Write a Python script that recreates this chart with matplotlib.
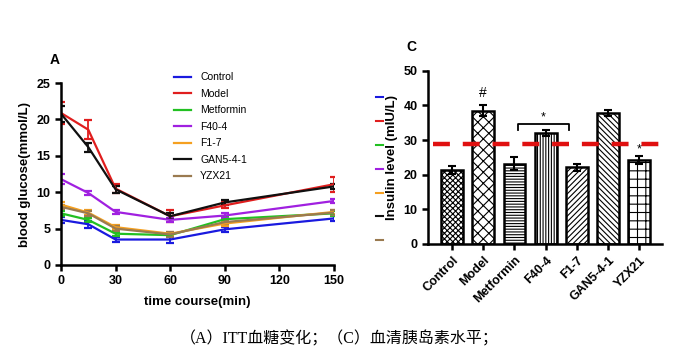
import matplotlib
matplotlib.use("Agg")
import matplotlib.pyplot as plt
from matplotlib.lines import Line2D

plt.rcParams["font.family"] = ["Liberation Sans", "DejaVu Sans"]
plt.rcParams["hatch.linewidth"] = 0.8

# ITT data
times = [0, 15, 30, 60, 90, 150]
groups = ["Control", "Model", "Metformin", "F40-4", "F1-7", "GAN5-4-1", "YZX21"]
colors = ["#1a1adf", "#e01e1e", "#22c022", "#a020e0", "#f5a020", "#101010", "#9a7a50"]
glucose = {
    "Control":   [6.2, 5.6, 3.5, 3.5, 4.9, 6.4],
    "Model":     [20.9, 18.6, 10.5, 6.7, 8.2, 11.1],
    "Metformin": [7.1, 6.2, 4.3, 4.1, 6.3, 7.1],
    "F40-4":     [11.8, 9.9, 7.3, 6.2, 6.8, 8.8],
    "F1-7":      [8.3, 7.2, 5.2, 4.3, 5.7, 7.3],
    "GAN5-4-1":  [20.8, 16.2, 10.4, 6.7, 8.6, 10.8],
    "YZX21":     [8.0, 7.1, 5.0, 4.2, 5.9, 7.2],
}
glucose_err = {
    "Control":   [0.4, 0.5, 0.4, 0.5, 0.3, 0.3],
    "Model":     [1.5, 1.3, 0.6, 0.8, 0.4, 1.0],
    "Metformin": [0.3, 0.3, 0.3, 0.3, 0.3, 0.3],
    "F40-4":     [0.7, 0.3, 0.3, 0.3, 0.3, 0.3],
    "F1-7":      [0.4, 0.3, 0.3, 0.3, 0.3, 0.3],
    "GAN5-4-1":  [1.1, 0.6, 0.5, 0.4, 0.4, 0.3],
    "YZX21":     [0.3, 0.3, 0.3, 0.3, 0.3, 0.3],
}

# insulin data
insulin = [21.3, 38.5, 23.2, 32.0, 22.2, 37.8, 24.3]
insulin_err = [1.2, 1.5, 1.9, 0.8, 1.0, 0.8, 1.2]
hatches = ["xxxxxx", "XXX", "------", "||||||", "//////", "\\\\\\\\\\\\", "++"]
ref_level = 29

fig = plt.figure(figsize=(6.86, 3.63), dpi=100)

# ---- panel A ----
ax1 = fig.add_axes([0.0889, 0.270, 0.398, 0.501])
for g, c in zip(groups, colors):
    ax1.errorbar(times, glucose[g], yerr=glucose_err[g], color=c, lw=1.6,
                 capsize=3, capthick=1.6, elinewidth=1.3, label=g)
ax1.set_xlim(0, 150)
ax1.set_ylim(0, 25)
ax1.set_xticks([0, 30, 60, 90, 120, 150])
ax1.set_yticks([0, 5, 10, 15, 20, 25])
ax1.spines["top"].set_visible(False)
ax1.spines["right"].set_visible(False)
for s in ["left", "bottom"]:
    ax1.spines[s].set_linewidth(1.8)
ax1.tick_params(width=1.8, length=4, labelsize=9)
for lab in ax1.get_xticklabels() + ax1.get_yticklabels():
    lab.set_fontweight("bold")
ax1.set_xlabel("time course(min)", fontsize=9.5, fontweight="bold", labelpad=6)
ax1.set_ylabel("blood glucose(mmol/L)", fontsize=9.5, fontweight="bold")
handles = [Line2D([0], [0], color=c, lw=1.6) for c in colors]
ax1.legend(handles, groups, loc="upper left", bbox_to_anchor=(0.38, 1.11),
           frameon=False, fontsize=7.5, handlelength=1.6, handletextpad=0.9,
           labelspacing=0.62)
fig.text(0.073, 0.823, "A", fontsize=10, fontweight="bold")

# ---- panel C ----
ax2 = fig.add_axes([0.624, 0.328, 0.341, 0.477])
x = list(range(len(groups)))
bars = ax2.bar(x, insulin, width=0.7, color="white", edgecolor="black",
               linewidth=1.8, yerr=insulin_err, capsize=3,
               error_kw=dict(elinewidth=1.5, capthick=1.5))
for b, h in zip(bars, hatches):
    b.set_hatch(h)
ax2.set_xlim(-0.77, 6.73)
ax2.set_ylim(0, 50)
ax2.plot([-0.6, 6.73], [ref_level, ref_level], color="#e01010", lw=3.2,
         ls=(0, (3.8, 2.9)))
ax2.set_xticks(x)
ax2.set_xticklabels(groups, rotation=45, ha="right", rotation_mode="anchor")
ax2.set_yticks([0, 10, 20, 30, 40, 50])
ax2.spines["top"].set_visible(False)
ax2.spines["right"].set_visible(False)
for s in ["left", "bottom"]:
    ax2.spines[s].set_linewidth(1.8)
ax2.tick_params(width=1.8, length=4, labelsize=9)
for lab in ax2.get_xticklabels() + ax2.get_yticklabels():
    lab.set_fontweight("bold")
ax2.set_ylabel("Insulin level (mIU/L)", fontsize=9.5, fontweight="bold")
ax2.text(1, 42.5, "#", ha="center", fontsize=10)
ax2.text(6, 26.3, "*", ha="center", fontsize=9)
ax2.plot([2.1, 2.1, 3.75, 3.75], [33.0, 34.5, 34.5, 33.0], color="black", lw=1.3)
ax2.text(2.93, 35.6, "*", ha="center", fontsize=9)
fig.text(0.592, 0.86, "C", fontsize=10, fontweight="bold")

fig.legend([Line2D([0], [0], color=c, lw=1.5) for c in colors], [""] * 7,
           loc="upper left", bbox_to_anchor=(0.535, 0.77), frameon=False,
           handlelength=0.6, labelspacing=1.33, fontsize=7.5)

fig.text(0.494, 0.066, "（A）ITT血糖变化；（C）血清胰岛素水平；", ha="center",
         va="center", fontsize=11.5,
         family=["Liberation Serif", "Noto Sans CJK SC"])

fig.savefig("out.png", dpi=100)
